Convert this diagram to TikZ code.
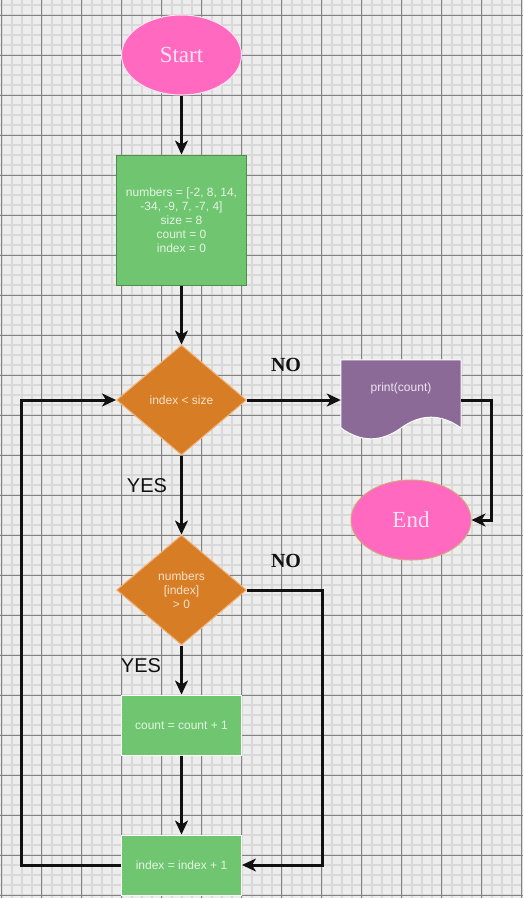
\documentclass[tikz,border=0pt]{standalone}
\usepackage{fontspec}
\setmainfont{Liberation Serif}
\setsansfont{Liberation Sans}
\usetikzlibrary{shapes.geometric,arrows.meta}

\definecolor{sheet}{HTML}{EDEDED}
\definecolor{minorline}{HTML}{D9D9D9}
\definecolor{majorline}{HTML}{828282}
\definecolor{pinkfill}{HTML}{FF69C0}
\definecolor{pinktext}{HTML}{FDE3F1}
\definecolor{greenfill}{HTML}{70C670}
\definecolor{greenline}{HTML}{4E8D4C}
\definecolor{greentext}{HTML}{E4F5E4}
\definecolor{orangefill}{HTML}{D67D25}
\definecolor{orangeline}{HTML}{F2B37A}
\definecolor{orangetext}{HTML}{F8E2CC}
\definecolor{purplefill}{HTML}{8C6A98}
\definecolor{purpletext}{HTML}{EDE4F1}
\definecolor{tanline}{HTML}{D8A47F}
\definecolor{arrowcol}{HTML}{111111}

\begin{document}
\begin{tikzpicture}[x=1pt, y=-1pt,
	terminal/.style={ellipse, minimum width=120pt, minimum height=80pt, inner sep=0pt, fill=pinkfill, line width=1pt, text=pinktext, font=\fontsize{23}{23}\selectfont},
	process/.style={rectangle, minimum width=120pt, minimum height=60pt, inner sep=0pt, fill=greenfill, draw=white, line width=1pt, text=greentext, align=center, font=\sffamily\fontsize{12}{14}\selectfont},
	decision/.style={diamond, minimum width=130pt, minimum height=110pt, inner sep=0pt, fill=orangefill, draw=orangeline, line width=1pt, text=orangetext, align=center, font=\sffamily\fontsize{12}{14}\selectfont},
	flow/.style={line width=3pt, draw=arrowcol, -{Stealth[length=14pt, width=13pt, inset=4pt]}},
	nolabel/.style={text=arrowcol, inner sep=0pt, font=\bfseries\fontsize{20}{20}\selectfont},
	yeslabel/.style={text=arrowcol, inner sep=0pt, font=\sffamily\fontsize{20}{20}\selectfont}]
	
	\useasboundingbox (0,0) rectangle (523,898);
	\fill [sheet] (0,0) rectangle (523,898);
	
	\foreach \i in {0,...,52}	\draw [minorline, line width=2pt]	(1.7+10*\i,0)	--	(1.7+10*\i,898);
	\foreach \j in {0,...,89}	\draw [minorline, line width=2pt]	(0,5+10*\j)		--	(523,5+10*\j);
	\foreach \i in {0,...,13}	\draw [majorline, line width=1pt]	(1.7+40*\i,0)	--	(1.7+40*\i,898);
	\foreach \j in {0,...,22}	\draw [majorline, line width=1pt]	(0,15+40*\j)	--	(523,15+40*\j);
	
	\node [terminal, draw=pinktext]		(start)		at (181.5,55)	{Start};
	\node [process, draw=greenline, minimum width=130pt, minimum height=130pt]
										(init)		at (181.5,220)	{numbers = [-2, 8, 14,\\-34, -9, 7, -7, 4]\\size = 8\\count = 0\\index = 0};
	\node [decision]					(loopcond)	at (181.5,400)	{index < size};
	\node [minimum width=120pt, minimum height=80pt, inner sep=0pt]
										(print)		at (401,400)	{};
	\node [terminal, draw=tanline]		(end)		at (411,520)	{End};
	\node [decision]					(poscond)	at (181.5,590)	{numbers\\{}[index]\\> 0};
	\node [process]						(inccount)	at (181.5,725)	{count = count + 1};
	\node [process]						(incindex)	at (181.5,865)	{index = index + 1};
	
	\filldraw [fill=purplefill, draw=white, line width=1pt]
		(print.north west) -- (print.north east) -- (461,428)
		.. controls (441,413.6) and (421,413.6) .. (401,428)
		.. controls (381,442.4) and (361,442.4) .. (341,428) -- cycle;
	\node [text=purpletext, inner sep=0pt, font=\sffamily\fontsize{12}{14}\selectfont]
										(printtext)	at (401,388)	{print(count)};
	
	\node [nolabel]						(no1)		at (286,365)	{NO};
	\node [yeslabel]					(yes1)		at (147,486)	{YES};
	\node [nolabel]						(no2)		at (286,561)	{NO};
	\node [yeslabel]					(yes2)		at (141,666)	{YES};
	
	\draw [flow]	(start)			--	(init);
	\draw [flow]	(init)			--	(loopcond);
	\draw [flow]	(loopcond.east)	--	(print.west);
	\draw [flow]	(print.east)	--	++(30.7,0)	|-	(end.east);
	\draw [flow]	(loopcond)		--	(poscond);
	\draw [flow]	(poscond)		--	(inccount);
	\draw [flow]	(inccount)		--	(incindex);
	\draw [flow]	(poscond.east)	--	++(75,0)	|-	(incindex.east);
	\draw [flow]	(incindex.west)	--	(21,865)	|-	(loopcond.west);
	
\end{tikzpicture}
\end{document}
